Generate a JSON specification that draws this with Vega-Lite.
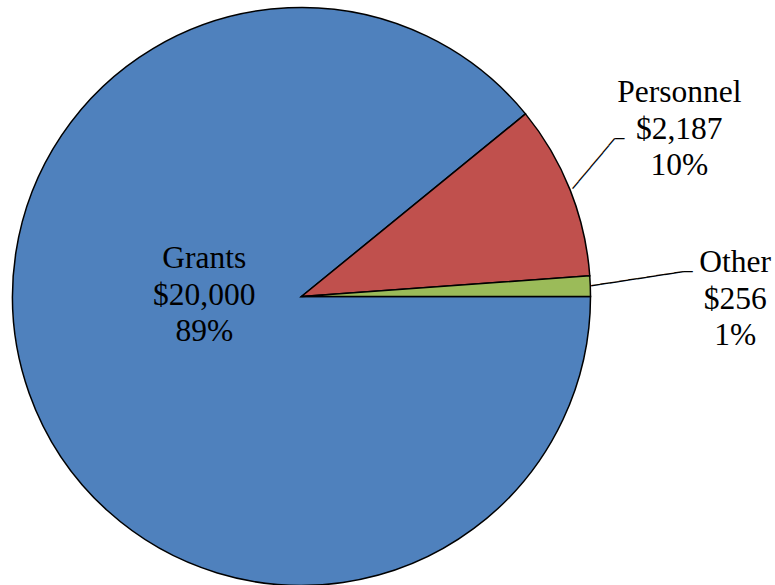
{
  "$schema": "https://vega.github.io/schema/vega-lite/v6.json",
  "width": 603,
  "height": 577,
  "autosize": {"type": "none"},
  "padding": {"left": 0, "top": 8, "right": 172, "bottom": 0},
  "background": "white",
  "view": {"stroke": null},
  "data": {
    "values": [
      {"category": "Grants", "value": 20000, "label": "Grants\n$20,000\n89%"},
      {"category": "Personnel", "value": 2187, "label": "Personnel\n$2,187\n10%"},
      {"category": "Other", "value": 256, "label": "Other\n$256\n1%"}
    ]
  },
  "encoding": {
    "theta": {"field": "value", "type": "quantitative", "stack": true, "scale": {"range": [1.5707963, 7.8539816]}},
    "order": {"field": "value", "type": "quantitative", "sort": "descending"}
  },
  "layer": [
    {
      "mark": {"type": "arc", "outerRadius": 289, "stroke": "black", "strokeWidth": 1.5},
      "encoding": {
        "color": {"field": "category", "type": "nominal", "scale": {"domain": ["Grants", "Personnel", "Other"], "range": ["#4F81BD", "#C0504D", "#9BBB59"]}, "legend": null}
      }
    },
    {
      "mark": {"type": "text", "radius": 100, "dx": -3, "dy": -71, "font": "Liberation Serif", "fontSize": 31.5, "lineHeight": 36.5, "lineBreak": "\n", "align": "center", "baseline": "middle", "color": "black"},
      "encoding": {"text": {"condition": {"test": "datum.category === 'Grants'", "field": "label", "type": "nominal"}, "value": ""}}
    },
    {
      "mark": {"type": "text", "radius": 400, "dx": 6, "dy": -55.7, "font": "Liberation Serif", "fontSize": 31.5, "lineHeight": 36.5, "lineBreak": "\n", "align": "center", "baseline": "middle", "color": "black"},
      "encoding": {"text": {"condition": {"test": "datum.category === 'Personnel'", "field": "label", "type": "nominal"}, "value": ""}}
    },
    {
      "mark": {"type": "text", "radius": 435, "dx": -1, "dy": -17.6, "font": "Liberation Serif", "fontSize": 31.5, "lineHeight": 36.5, "lineBreak": "\n", "align": "center", "baseline": "middle", "color": "black"},
      "encoding": {"text": {"condition": {"test": "datum.category === 'Other'", "field": "label", "type": "nominal"}, "value": ""}}
    },
    {
      "mark": {"type": "text", "radius": 292, "angle": 310, "font": "DejaVu Sans Mono", "fontSize": 15.5, "align": "left", "baseline": "middle", "color": "black"},
      "encoding": {"text": {"condition": {"test": "datum.category === 'Personnel'", "value": "───────"}, "value": ""}}
    },
    {
      "mark": {"type": "text", "radius": 292, "dx": 42, "dy": -50, "font": "DejaVu Sans Mono", "fontSize": 15.5, "align": "left", "baseline": "middle", "color": "black"},
      "encoding": {"text": {"condition": {"test": "datum.category === 'Personnel'", "value": "─"}, "value": ""}}
    },
    {
      "mark": {"type": "text", "radius": 290, "angle": 351.2, "font": "DejaVu Sans Mono", "fontSize": 15.5, "align": "left", "baseline": "middle", "color": "black"},
      "encoding": {"text": {"condition": {"test": "datum.category === 'Other'", "value": "──────────"}, "value": ""}}
    },
    {
      "mark": {"type": "text", "radius": 290, "dx": 92, "dy": -14.3, "font": "DejaVu Sans Mono", "fontSize": 15.5, "align": "left", "baseline": "middle", "color": "black"},
      "encoding": {"text": {"condition": {"test": "datum.category === 'Other'", "value": "─"}, "value": ""}}
    }
  ]
}
